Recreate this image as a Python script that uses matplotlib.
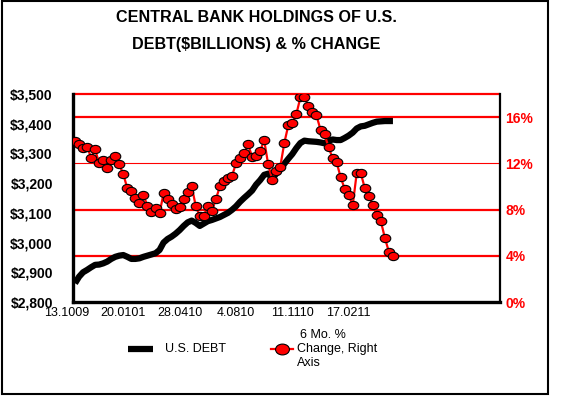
import numpy as np
import matplotlib
matplotlib.use("Agg")
import matplotlib.pyplot as plt
from matplotlib.lines import Line2D
from matplotlib.patches import Rectangle
from matplotlib.path import Path
from matplotlib.transforms import ScaledTranslation, blended_transform_factory

plt.rcParams['font.family'] = ['Liberation Sans', 'DejaVu Sans']

# ---------------- data ----------------
debt = [2863, 2885, 2900, 2908, 2917, 2925, 2926, 2930, 2936, 2945,
        2952, 2956, 2958, 2952, 2945, 2945, 2947, 2952, 2956, 2960,
        2964, 2975, 3000, 3012, 3020, 3030, 3042, 3056, 3068, 3074,
        3066, 3056, 3064, 3072, 3076, 3081, 3086, 3093, 3100, 3110,
        3122, 3137, 3150, 3162, 3175, 3195, 3210, 3228, 3232, 3216,
        3232, 3247, 3265, 3282, 3298, 3318, 3335, 3343, 3341, 3340,
        3339, 3337, 3334, 3342, 3347, 3345, 3345, 3352, 3360, 3370,
        3384, 3391, 3393, 3398, 3403, 3407, 3408, 3409, 3409, 3409]

pct_change = [13.95, 13.64, 13.3, 13.43, 12.5, 13.2, 12.0, 12.3, 11.6, 12.3,
              12.6, 11.9, 11.05, 9.84, 9.63, 8.97, 8.59, 9.26, 8.3, 7.81,
              8.1, 7.67, 9.4, 8.88, 8.5, 8.04, 8.2, 8.9, 9.55, 10.0,
              8.3, 7.44, 7.46, 8.3, 7.87, 8.9, 10.0, 10.47, 10.7, 10.9,
              12.0, 12.5, 12.86, 13.64, 12.57, 12.66, 13.06, 14.0, 11.9, 10.6,
              11.3, 11.7, 13.75, 15.3, 15.5, 16.26, 17.7, 17.7, 17.0, 16.4,
              16.15, 14.9, 14.5, 13.4, 12.45, 12.1, 10.8, 9.8, 9.23, 8.37,
              11.16, 11.16, 9.86, 9.14, 8.37, 7.5, 6.98, 5.54, 4.33, 3.95]

x_labels = ["13.1009", "20.0101", "28.0410", "4.0810", "11.1110", "17.0211"]
label_step = 14
debt_ticks = [2800, 2900, 3000, 3100, 3200, 3300, 3400, 3500]
pct_ticks = [0, 4, 8, 12, 16]
pct_max = 18

title_lines = ["CENTRAL BANK HOLDINGS OF U.S.", "DEBT($BILLIONS) & % CHANGE"]
legend_debt = "U.S. DEBT"
legend_pct = ["6 Mo. %", "Change, Right", "Axis"]

# ---------------- figure ----------------
W, H, DPI = 561, 398, 100
fig = plt.figure(figsize=(W / DPI, H / DPI), dpi=DPI)
fig.patch.set_facecolor('white')

def fx(px):
    return px / W

def fy(py):
    return 1 - py / H

ax = fig.add_axes([fx(73), 96 / H, 427 / W, 208 / H])
ax2 = ax.twinx()

idx = np.arange(len(debt))
ax.set_xlim(-0.5, 105.6)
ax.set_ylim(debt_ticks[0], debt_ticks[-1])
ax2.set_ylim(0, pct_max)

# red horizontal grid lines (right axis levels) + top border
gtrans = blended_transform_factory(ax.transAxes, ax2.transData)
for t in pct_ticks[1:] + [pct_max]:
    lw = 0.8 if t == 12 else 1.6
    ax.plot([0, 1], [t, t], transform=gtrans, color='#FF0000', lw=lw,
            zorder=1, clip_on=False, solid_capstyle='butt')

# U.S. debt line
ax.plot(idx, debt, color='black', lw=4.5, zorder=3, solid_capstyle='butt',
        solid_joinstyle='round')

# ellipse marker
circ = Path.unit_circle()
ell = Path(circ.vertices * np.array([1.0, 0.78]), circ.codes)

ax2.plot(idx, pct_change, color='#FF0000', lw=1.6, marker=ell, ms=7.6,
         mfc='#FF0000', mec='black', mew=0.8, zorder=4)

# spines
for s in ['top', 'right']:
    ax.spines[s].set_visible(False)
ax.spines['left'].set_linewidth(2.4)
ax.spines['bottom'].set_linewidth(2.4)
for s in ['top', 'left', 'bottom']:
    ax2.spines[s].set_visible(False)
ax2.spines['right'].set_linewidth(1.6)
ax2.spines['right'].set_color('black')

# ticks
ax.set_yticks(debt_ticks, labels=[f"${v:,}" for v in debt_ticks],
              fontweight='bold', fontsize=10)
ax.tick_params(axis='y', length=0, pad=14.5)
ax2.set_yticks(pct_ticks, labels=[f"{t}%" for t in pct_ticks],
               fontweight='bold', fontsize=10, color='#FF0000')
ax2.tick_params(axis='y', length=0, pad=4, labelcolor='#FF0000')

ax.set_xticks(np.arange(len(x_labels)) * label_step, labels=x_labels, fontsize=9)
ax.tick_params(axis='x', length=0, pad=3.5)
off = ScaledTranslation(-0.08, 0, fig.dpi_scale_trans)
for lbl in ax.get_xticklabels():
    lbl.set_transform(lbl.get_transform() + off)

# title
fig.text(fx(256), fy(17), title_lines[0], ha='center', va='center',
         fontweight='bold', fontsize=11.6)
fig.text(fx(256), fy(45), title_lines[1], ha='center', va='center',
         fontweight='bold', fontsize=11.6)

# legend (manual)
ly = fy(349)
fig.add_artist(Line2D([fx(128), fx(153)], [ly, ly], color='black', lw=4.5,
                      solid_capstyle='butt', transform=fig.transFigure))
fig.text(fx(165), ly, legend_debt, va='center', ha='left', fontsize=9)
fig.add_artist(Line2D([fx(271), fx(282), fx(293)], [ly, ly, ly], color='#FF0000',
                      lw=1.6, marker=ell, ms=10, markevery=[1], mfc='#FF0000',
                      mec='black', mew=0.8, transform=fig.transFigure))
for i, (txt, yy) in enumerate(zip(legend_pct, [335, 349, 363])):
    fig.text(fx(300 if i == 0 else 297), fy(yy), txt, va='center', ha='left',
             fontsize=9)

# outer border
fig.add_artist(Rectangle((fx(2), fy(394)), 546 / W, 393 / H, fill=False,
                         lw=1.5, ec='black', transform=fig.transFigure))

fig.savefig("out.png", dpi=DPI, facecolor='white')
